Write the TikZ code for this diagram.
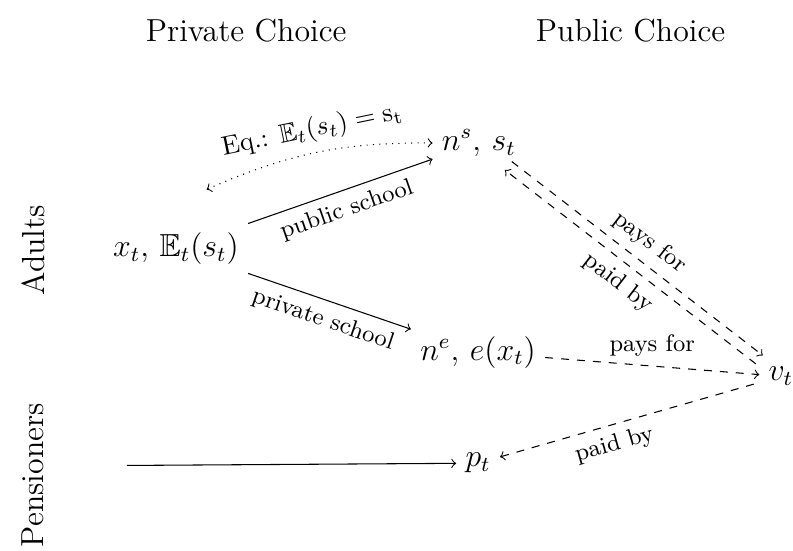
\documentclass[tikz,border=0pt]{standalone}
\usepackage{amssymb}
\begin{document}
\begin{tikzpicture}[lbl/.style={font=\small}, pay/.style={dashed,->}]

\useasboundingbox (0,0) rectangle (10.5,7.283);

% headers
\node[font=\large] (hpriv) at (3.26,6.88) {Private Choice};
\node[font=\large] (hpub) at (8.35,6.88) {Public Choice};

\node[font=\large, rotate=90] (adults) at (0.44,3.97) {Adults};
\node[font=\large, rotate=90] (pens) at (0.44,0.99) {Pensioners};

% states
\node[font=\large] (xE) at (2.33,3.99) {$x_t,\, \mathbb{E}_t(s_t)$};
\node[font=\large] (ns) at (6.34,5.39) {$n^s,\, s_t$};
\node[font=\large] (ne) at (6.33,2.62) {$n^e,\, e(x_t)$};
\node[font=\large] (vt) at (10.34,2.30) {$v_t$};
\node[font=\large] (pt) at (6.33,1.15) {$p_t$};
\coordinate (p0) at (1.68,1.12);

\draw[->] (xE) -- node[lbl, below, sloped] {public school} (ns);
\draw[->] (xE) -- node[lbl, below, sloped] {private school} (ne);
\draw[<->, dotted] ([xshift=-0.55cm, yshift=0.45cm]xE.north east) to[bend left=12] node[above, sloped] {Eq.: $\mathbb{E}_t(s_t) = \mathrm{s}_{\mathrm{t}}$} (ns.west);

\draw[pay, transform canvas={xshift=1.3pt, yshift=1.6pt}] (ns) -- node[lbl, above, sloped] {pays for} (vt);
\draw[pay, transform canvas={xshift=-1.3pt, yshift=-1.6pt}] (vt) -- node[lbl, below, sloped] {paid by} (ns);

\draw[pay] (ne) -- node[lbl, above] {pays for} (vt);
\draw[dashed, <-] (pt) -- node[lbl, below, sloped, pos=0.42] {paid by} (vt);

\draw[->] (p0) -- (pt);

\end{tikzpicture}
\end{document}
